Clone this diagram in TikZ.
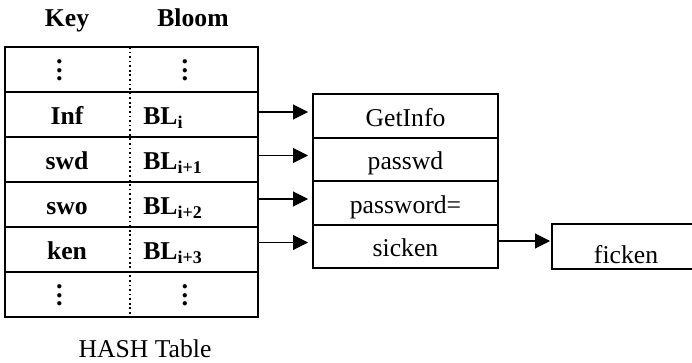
\documentclass[tikz,border=0pt]{standalone}
\usepackage{fontspec}
\setmainfont{Liberation Serif}
\usepackage{tikz}
\usetikzlibrary{positioning,arrows.meta}

\newcommand{\tabledots}{\vbox{\baselineskip=0.17cm \lineskiplimit=0pt \hbox{.}\hbox{.}\hbox{.}}}

\tikzset{
  row/.style={draw, line width=1.1pt, minimum width=5.06cm, minimum height=0.9cm, outer sep=0pt, inner sep=0pt},
  cell/.style={font=\fontsize{14.6}{17.5}\selectfont\bfseries, text height=0.4cm, text depth=0cm, inner sep=0pt},
  dots/.style={inner sep=0pt, font=\fontsize{15}{17.5}\selectfont\bfseries},
  box/.style={draw, line width=1.1pt, minimum width=3.7cm, minimum height=0.87cm, outer sep=0pt, text height=0.4cm, text depth=0cm},
  arr/.style={-{Triangle[length=0.3cm,width=0.3cm]}, line width=0.6pt},
}

\begin{document}
\begin{tikzpicture}[font=\fontsize{14.6}{17.5}\selectfont]
  \useasboundingbox (0,0) rectangle (13.84,7.24);
  \clip (0,0) rectangle (13.84,7.24);

  % hash table
  \node[row] (r1) at (2.63,5.85) {};
  \node[row, below=0pt of r1] (r2) {};
  \node[row, below=0pt of r2] (r3) {};
  \node[row, below=0pt of r3] (r4) {};
  \node[row, below=0pt of r4] (r5) {};
  \node[row, below=0pt of r5] (r6) {};
  \draw[line width=1.5pt] (r1.north west) rectangle (r6.south east);
  \draw[line width=0.6pt, dash pattern=on 1pt off 1.6pt] (2.6,6.3) -- (2.6,0.9);

  \node[cell, anchor=base] (keyhd) at (1.34,6.7) {Key};
  \node[cell, anchor=base] (bloomhd) at (3.86,6.7) {Bloom};

  \node[dots] (k1) at (1.19,5.83) {\tabledots};
  \node[dots] (b1) at (3.7,5.83) {\tabledots};
  \node[cell] (k2) at (1.34,4.95) {Inf};
  \node[cell, anchor=west] (b2) at (2.86,4.95) {BL\textsubscript{i}};
  \node[cell] (k3) at (1.34,4.05) {swd};
  \node[cell, anchor=west] (b3) at (2.86,4.05) {BL\textsubscript{i+1}};
  \node[cell] (k4) at (1.34,3.15) {swo};
  \node[cell, anchor=west] (b4) at (2.86,3.15) {BL\textsubscript{i+2}};
  \node[cell] (k5) at (1.34,2.25) {ken};
  \node[cell, anchor=west] (b5) at (2.86,2.25) {BL\textsubscript{i+3}};
  \node[dots] (k6) at (1.19,1.33) {\tabledots};
  \node[dots] (b6) at (3.7,1.33) {\tabledots};

  \node[anchor=base] (caption) at (2.9,0.1) {HASH Table};

  % bucket strings
  \node[box] (gi) at (8.11,4.92) {GetInfo};
  \node[box, below=0pt of gi] (pw) {passwd};
  \node[box, below=0pt of pw] (pweq) {password=};
  \node[box, below=0pt of pweq] (sk) {sicken};
  \node[box, minimum width=2.96cm, text height=0.66cm, right=1.08cm of sk] (fk) {ficken};

  \foreach \b/\r in {gi/r2, pw/r3, pweq/r4, sk/r5}
    \draw[arr, shorten >=0.1cm] ([yshift=0.08cm]\b.west -| \r.east) -- ([yshift=0.08cm]\b.west);
  \draw[arr, shorten >=0.04cm] ([yshift=0.11cm]sk.east) -- ([yshift=0.11cm]sk.east -| fk.west);
\end{tikzpicture}
\end{document}
